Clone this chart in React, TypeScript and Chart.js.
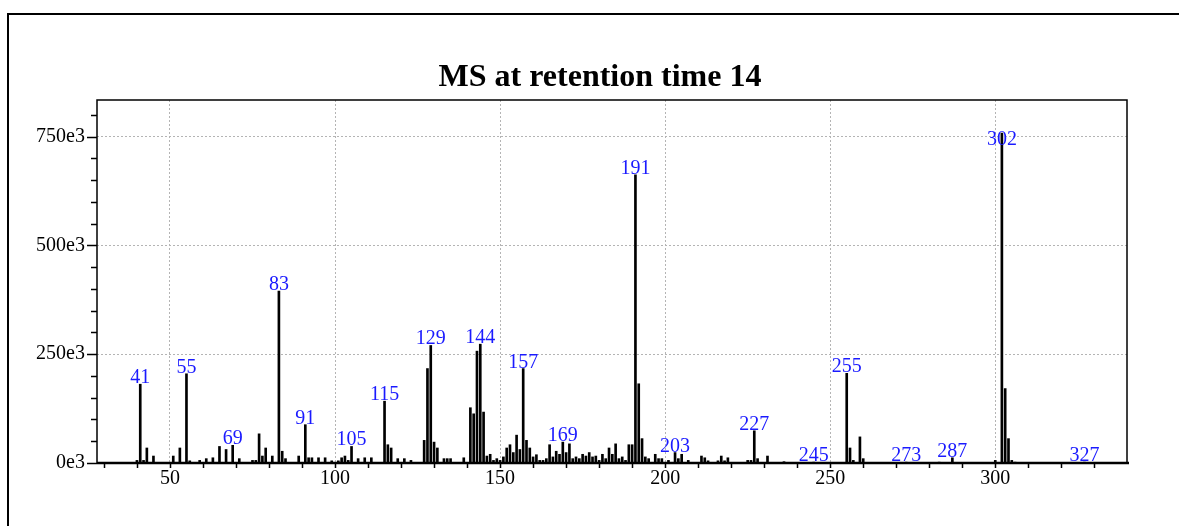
import { useEffect, useRef } from "react";
import { Chart, registerables } from "chart.js";

Chart.register(...registerables);

const TITLE = "MS at retention time 14";

const MZ = [
  40, 41, 42, 43, 45, 51, 53, 55, 56, 59, 61, 63, 65, 67, 69, 71, 75, 76, 77, 78, 79, 81, 83, 84, 85, 89,
  91, 92, 93, 95, 97, 99, 101, 102, 103, 104, 105, 107, 109, 111, 115, 116, 117, 119, 121, 123, 127, 128,
  129, 130, 131, 133, 134, 135, 139, 141, 142, 143, 144, 145, 146, 147, 148, 149, 150, 151, 152, 153, 154,
  155, 156, 157, 158, 159, 160, 161, 162, 163, 164, 165, 166, 167, 168, 169, 170, 171, 172, 173, 174, 175,
  176, 177, 178, 179, 180, 181, 182, 183, 184, 185, 186, 187, 188, 189, 190, 191, 192, 193, 194, 195, 197,
  198, 199, 201, 203, 204, 205, 207, 211, 212, 213, 216, 217, 218, 219, 225, 226, 227, 228, 231, 236, 245,
  255, 256, 257, 259, 260, 273, 283, 287, 300, 302, 303, 304, 305, 306, 327,
];

const INTENSITY = [
  6000, 181000, 6000, 34500, 16000, 16000, 34500, 205000, 5000, 6000, 10000, 12000, 38000, 31000, 40600, 10000,
  6000, 6000, 67000, 16000, 34500, 16000, 395000, 27000, 10000, 16000,
  88000, 12000, 12000, 12000, 12000, 5000, 5000, 12000, 16000, 6000, 38000, 10000, 12000, 12000, 142000, 42000,
  34500, 10000, 10000, 6000, 52000, 217000,
  270000, 48000, 34500, 10000, 10000, 10000, 12000, 127000, 113000, 257000, 273000, 117000, 16000, 20000, 6000,
  10000, 6000, 14000, 34500, 42000, 24000,
  64000, 31000, 217000, 52000, 34500, 14000, 19000, 6000, 6000, 10000, 42000, 14000, 27000, 20000, 48000, 24000,
  44000, 10000, 14000, 10000, 20000,
  16000, 24000, 14000, 16000, 6000, 20000, 10000, 34500, 20000, 44000, 10000, 14000, 6000, 42000, 42000, 662000,
  182000, 56000, 14000, 10000, 20000,
  10000, 10000, 6000, 24000, 10000, 20000, 6000, 16000, 12000, 5000, 5000, 16000, 5000, 12000, 6000, 6000, 74000,
  10000, 16000, 3000, 2000,
  206000, 34500, 6000, 60000, 10000, 2000, 2000, 12000, 6000, 758000, 171000, 56000, 6000, 2000, 2000,
];

const LABELED_MZ = [41, 55, 69, 83, 91, 105, 115, 129, 144, 157, 169, 191, 203, 227, 245, 255, 273, 287, 302, 327];

const X_MIN = 27.9;
const X_MAX = 339.9;
const X_MAJOR = 50;
const X_MINOR = 10;
const Y_MAX = 834000;
const Y_MAJOR = 250000;
const Y_MINOR = 50000;
const LABEL_CAP_FRACTION = 0.96;

const SERIF = '"Liberation Serif", "Times New Roman", serif';

function stepTicks(min: number, max: number, step: number) {
  const out: { value: number }[] = [];
  for (let v = Math.ceil(min / step) * step; v <= max; v += step) out.push({ value: v });
  return out;
}

const decorPlugin = {
  id: "msDecor",
  afterDraw(chart: any) {
    const { ctx, chartArea: a, scales } = chart;
    const x = scales.x;
    const y = scales.y;
    ctx.save();

    // frame
    ctx.strokeStyle = "#000";
    ctx.lineWidth = 1.5;
    ctx.strokeRect(a.left, a.top, a.right - a.left, a.bottom - a.top);
    ctx.lineWidth = 2.5;
    ctx.beginPath();
    ctx.moveTo(a.left, a.bottom);
    ctx.lineTo(a.right + 2, a.bottom);
    ctx.stroke();

    // tick marks
    ctx.lineWidth = 1.5;
    ctx.beginPath();
    x.ticks.forEach((t: any) => {
      const px = Math.round(x.getPixelForValue(t.value)) + 0.5;
      ctx.moveTo(px, a.bottom + 1);
      ctx.lineTo(px, a.bottom + 5);
    });
    y.ticks.forEach((t: any) => {
      const py = Math.round(y.getPixelForValue(t.value)) + 0.5;
      const len = t.value % Y_MAJOR === 0 ? 10 : 6;
      ctx.moveTo(a.left - len, py);
      ctx.lineTo(a.left, py);
    });
    ctx.stroke();

    // peak labels
    const maxI = Math.max(...INTENSITY);
    ctx.fillStyle = "#1a1aff";
    ctx.font = `20px ${SERIF}`;
    ctx.textAlign = "center";
    ctx.textBaseline = "alphabetic";
    LABELED_MZ.forEach((m) => {
      const i = MZ.indexOf(m);
      if (i < 0) return;
      const v = Math.min(INTENSITY[i], maxI * LABEL_CAP_FRACTION);
      const px = x.getPixelForValue(m);
      const py = y.getPixelForValue(v) - 1;
      ctx.fillText(String(m), px, py);
    });

    // title
    ctx.fillStyle = "#000";
    ctx.font = `bold 32px ${SERIF}`;
    ctx.textAlign = "center";
    ctx.textBaseline = "alphabetic";
    ctx.fillText(TITLE, (a.left + a.right) / 2 - 12, 86);

    ctx.restore();
  },
};

export default function App() {
  const ref = useRef<HTMLCanvasElement>(null);

  useEffect(() => {
    if (!ref.current) return;
    const points = MZ.map((m, i) => ({ x: m, y: INTENSITY[i] }));
    const chart = new Chart(ref.current, {
      type: "bar",
      data: {
        datasets: [
          {
            data: points as any,
            backgroundColor: "#000",
            borderWidth: 0,
            barThickness: 2,
            grouped: false,
          } as any,
        ],
      },
      options: {
        animation: false,
        responsive: false,
        devicePixelRatio: 1,
        layout: { padding: { left: 0, top: 100, right: 52, bottom: 23 } },
        plugins: {
          legend: { display: false },
          tooltip: { enabled: false },
          title: { display: false },
        },
        scales: {
          x: {
            type: "linear",
            min: X_MIN,
            max: X_MAX,
            offset: false,
            afterBuildTicks: (s: any) => {
              s.ticks = stepTicks(X_MIN, X_MAX, X_MINOR);
            },
            afterFit: (s: any) => {
              s.height = 40;
            },
            ticks: {
              autoSkip: false,
              maxRotation: 0,
              padding: 4,
              color: "#000",
              font: { family: SERIF, size: 20 },
              callback: (v: any) => (Number(v) % X_MAJOR === 0 ? String(v) : ""),
            },
            grid: {
              drawTicks: false,
              offset: false,
              lineWidth: 1,
              color: (c: any) =>
                c.tick && c.tick.value % X_MAJOR === 0 ? "#b4b4b4" : "rgba(0,0,0,0)",
            },
            border: { display: false, dash: [2, 2] },
          },
          y: {
            type: "linear",
            min: 0,
            max: Y_MAX,
            afterBuildTicks: (s: any) => {
              s.ticks = stepTicks(0, Y_MAX, Y_MINOR);
            },
            afterFit: (s: any) => {
              s.width = 97;
            },
            ticks: {
              autoSkip: false,
              padding: 12,
              color: "#000",
              font: { family: SERIF, size: 20 },
              callback: (v: any) => (Number(v) % Y_MAJOR === 0 ? `${Number(v) / 1000}e3` : ""),
            },
            grid: {
              drawTicks: false,
              lineWidth: 1,
              color: (c: any) =>
                c.tick && c.tick.value % Y_MAJOR === 0 && c.tick.value > 0 ? "#b4b4b4" : "rgba(0,0,0,0)",
            },
            border: { display: false, dash: [2, 2] },
          },
        },
      },
      plugins: [decorPlugin],
    });
    return () => chart.destroy();
  }, []);

  return (
    <div style={{ position: "fixed", left: 0, top: 0, width: 1179, height: 526, background: "#fff" }}>
      <div
        style={{
          position: "absolute",
          left: 7,
          top: 13,
          width: 1200,
          height: 600,
          borderLeft: "2px solid #000",
          borderTop: "2px solid #000",
        }}
      />
      <canvas
        ref={ref}
        width={1179}
        height={526}
        style={{ position: "absolute", left: 0, top: 0, width: 1179, height: 526 }}
      />
    </div>
  );
}
